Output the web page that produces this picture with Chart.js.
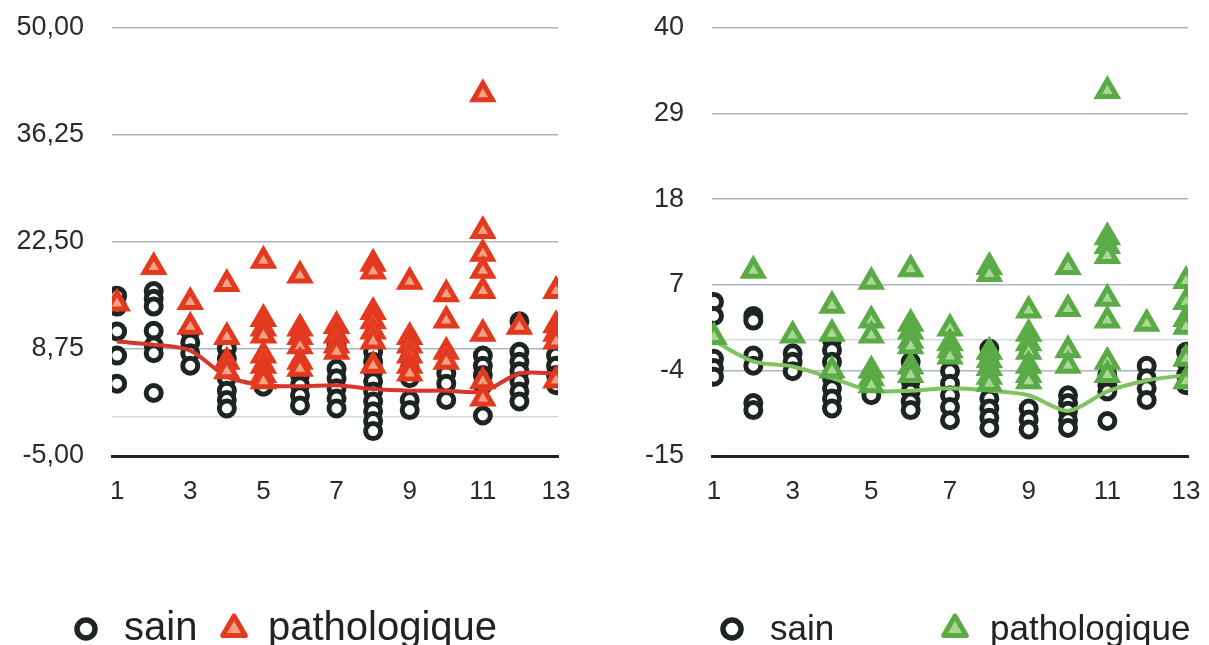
<!DOCTYPE html>
<html>
<head>
<meta charset="utf-8">
<script src="https://cdn.jsdelivr.net/npm/chart.js@4/dist/chart.umd.min.js"></script>
<style>
  html, body { margin: 0; padding: 0; background: #fff; }
  #wrap { position: relative; width: 1209px; height: 645px; }
  #leftBox { position: absolute; left: 0; top: 0; width: 600px; height: 645px; }
  #rightBox { position: absolute; left: 600px; top: 0; width: 609px; height: 645px; }
</style>
</head>
<body>
<div id="wrap">
  <div id="leftBox"><canvas id="leftChart"></canvas></div>
  <div id="rightBox"><canvas id="rightChart"></canvas></div>
</div>
<script>
// colonnes 1..13
const categories = [1, 2, 3, 4, 5, 6, 7, 8, 9, 10, 11, 12, 13];
const xTicks = [1, 3, 5, 7, 9, 11, 13];
const seriesNames = ["sain", "pathologique"];

// graphique de gauche
const leftYTicks = [-5, 8.75, 22.5, 36.25, 50];
const leftSain = [
    [15.6, 14.2, 11.0, 7.9, 4.3],
    [16.2, 15.2, 14.2, 11.1, 9.2, 8.2, 3.1],
    [11.0, 9.6, 8.2, 6.6],
    [8.8, 7.5, 5.0, 3.4, 2.2, 1.1],
    [4.6, 3.9],
    [6.6, 5.4, 4.1, 2.8, 1.5],
    [9.2, 6.2, 5.0, 3.7, 2.4, 1.1],
    [8.4, 7.1, 5.9, 4.6, 3.3, 2.0, 0.75, -0.5, -1.8],
    [7.5, 6.2, 5.0, 2.2, 0.9],
    [5.6, 4.3, 2.2],
    [7.9, 6.6, 5.4, 4.1, 0.2],
    [12.3, 8.4, 7.1, 5.9, 4.6, 3.3, 2.0],
    [7.9, 6.6, 5.4, 4.1]
];
const leftPatho = [
    [14.6],
    [19.3],
    [14.8, 11.6],
    [17.1, 10.3, 7.1, 5.9],
    [20.1, 12.6, 11.4, 10.5, 7.9, 6.6, 5.4, 4.6],
    [18.2, 11.4, 10.3, 9.1, 7.1, 6.2],
    [11.7, 10.5, 9.2, 8.4],
    [19.7, 18.7, 13.5, 12.3, 11.0, 9.7, 6.6],
    [17.4, 10.3, 9.2, 7.9, 6.6, 5.6],
    [15.8, 12.4, 8.4, 7.1],
    [41.5, 23.9, 21.0, 18.8, 16.2, 10.7, 4.6, 2.4],
    [11.6],
    [16.2, 11.8, 10.7, 9.7, 4.7]
];
const leftMean = [9.7, 9.3, 8.55, 5.2, 4.1, 3.95, 4.1, 3.6, 3.4, 3.4, 3.3, 5.6, 5.6];

// graphique de droite
const rightYTicks = [-15, -4, 7, 18, 29, 40];
const rightSain = [
    [4.8, 3.0, -2.5, -3.7, -4.8],
    [3.0, 2.4, -2.1, -3.4, -8.2, -9.1],
    [-1.8, -2.9, -4.1],
    [-0.1, -1.4, -2.9, -5.0, -6.3, -7.6, -8.9],
    [-7.2],
    [-2.9, -4.1, -5.4, -6.7, -8.0, -9.1],
    [-4.1, -5.7, -7.2, -8.7, -10.4],
    [-1.2, -2.5, -4.1, -7.6, -8.9, -10.1, -11.4],
    [-8.9, -10.3, -11.6],
    [-7.2, -8.2, -9.2, -10.4, -11.4],
    [-4.6, -5.9, -6.7, -10.5],
    [-3.4, -5.0, -6.3, -7.8],
    [-1.6, -2.9, -4.6, -5.9]
];
const rightPatho = [
    [0.3],
    [8.8],
    [0.5],
    [4.3, 0.7, -4.0],
    [7.4, 2.4, 0.5, -4.0, -5.0, -5.9],
    [9.0, 2.0, 1.0, -0.2, -0.9, -3.5, -4.6],
    [1.4, -0.5, -1.4, -2.2],
    [9.3, 8.4, -1.6, -2.7, -3.7, -4.8, -5.7],
    [3.7, 0.7, -0.5, -1.6, -3.4, -4.6, -5.4],
    [9.3, 3.9, -1.4, -3.4],
    [31.9, 13.1, 12.0, 10.7, 5.2, 2.4, -2.9, -4.6],
    [2.0],
    [7.5, 4.8, 2.6, 1.6, -2.5, -5.4]
];
const rightMean = [-0.2, -2.85, -3.5, -5.0, -6.6, -6.6, -6.3, -6.6, -7.2, -9.2, -6.7, -5.3, -4.6];

const FONT = "'Liberation Sans', Arial, Helvetica, sans-serif";
const DARK = "#1d2521";

function toPoints(cols) {
    const pts = [];
    cols.forEach((vals, i) => vals.forEach(v => pts.push({ x: categories[i], y: v })));
    return pts;
}

// légende dessinée à la main (cercle / triangle + texte)
const refLegend = {
    id: "refLegend",
    afterDraw(chart, args, opts) {
        const ctx = chart.ctx;
        ctx.save();
        opts.items.forEach(it => {
            ctx.lineWidth = it.lineWidth;
            ctx.lineJoin = "round";
            ctx.strokeStyle = it.stroke;
            ctx.fillStyle = it.fill;
            ctx.beginPath();
            if (it.shape === "circle") {
                ctx.arc(it.x, opts.y, it.r, 0, Math.PI * 2);
            } else {
                ctx.moveTo(it.x, opts.y - it.r);
                ctx.lineTo(it.x + it.r * 0.866, opts.y + it.r * 0.5);
                ctx.lineTo(it.x - it.r * 0.866, opts.y + it.r * 0.5);
                ctx.closePath();
            }
            ctx.fill();
            ctx.stroke();
            ctx.fillStyle = "#222";
            ctx.font = opts.fontSize + "px " + FONT;
            ctx.textBaseline = "alphabetic";
            ctx.fillText(it.label, it.textX, opts.baseline);
        });
        ctx.restore();
    }
};

function makeChart(canvasId, cfg) {
    return new Chart(document.getElementById(canvasId), {
        type: "scatter",
        data: {
            datasets: [
                {
                    label: seriesNames[1],
                    data: toPoints(cfg.patho),
                    pointStyle: "triangle",
                    pointRadius: 11,
                    borderWidth: 5,
                    borderColor: cfg.color,
                    backgroundColor: cfg.fill,
                    order: 0
                },
                {
                    type: "line",
                    label: "moyenne",
                    data: cfg.mean.map((v, i) => ({ x: categories[i], y: v })),
                    borderColor: cfg.lineColor,
                    borderWidth: 4,
                    pointRadius: 0,
                    tension: 0.3,
                    fill: false,
                    order: 1
                },
                {
                    label: seriesNames[0],
                    data: toPoints(cfg.sain),
                    pointStyle: "circle",
                    pointRadius: 7.5,
                    borderWidth: 5,
                    borderColor: DARK,
                    backgroundColor: "#ffffff",
                    order: 2
                }
            ]
        },
        options: {
            responsive: true,
            maintainAspectRatio: false,
            animation: false,
            events: [],
            layout: {
                padding: { top: 28, right: cfg.padRight, bottom: 0, left: 0 }
            },
            scales: {
                x: {
                    type: "linear",
                    min: cfg.xMin,
                    max: cfg.xMax,
                    afterBuildTicks: s => { s.ticks = xTicks.map(v => ({ value: v })); },
                    afterFit: s => {
                        s.height = 189;
                        s.paddingLeft = 0;
                        s.paddingRight = 0;
                    },
                    grid: { display: false, drawTicks: false },
                    border: { display: true, color: DARK, width: 3 },
                    ticks: {
                        padding: 20,
                        color: "#2a2a2a",
                        font: { family: FONT, size: 26 }
                    }
                },
                y: {
                    min: cfg.yTicks[0],
                    max: cfg.yTicks[cfg.yTicks.length - 1],
                    afterBuildTicks: s => {
                        s.ticks = cfg.yTicks.concat([0]).map(v => ({ value: v }));
                    },
                    afterFit: s => {
                        s.width = 112;
                        s.paddingTop = 0;
                        s.paddingBottom = 0;
                    },
                    grid: {
                        drawTicks: false,
                        lineWidth: 1.5,
                        color: c => {
                            if (c.tick.value === cfg.yTicks[0]) return "rgba(0,0,0,0)";
                            if (c.tick.value === 0) return "#d3dae0";
                            return "#a7b7c6";
                        }
                    },
                    border: { display: false },
                    ticks: {
                        padding: 28,
                        color: "#2a2a2a",
                        font: { family: FONT, size: 27 },
                        callback: v => (v === 0 ? "" : cfg.fmt(v))
                    }
                }
            },
            plugins: {
                legend: { display: false },
                tooltip: { enabled: false },
                refLegend: {
                    y: 629,
                    baseline: 640,
                    fontSize: cfg.legFont,
                    items: [
                        { shape: "circle", x: cfg.legX[0], textX: cfg.legX[1], r: 9, lineWidth: 5.5,
                          stroke: DARK, fill: "#fff", label: seriesNames[0] },
                        { shape: "triangle", x: cfg.legX[2], textX: cfg.legX[3], r: 13, lineWidth: 5,
                          stroke: cfg.color, fill: cfg.fill, label: seriesNames[1] }
                    ]
                }
            }
        },
        plugins: [refLegend]
    });
}

makeChart("leftChart", {
    sain: leftSain, patho: leftPatho, mean: leftMean, yTicks: leftYTicks,
    fmt: v => v.toFixed(2).replace(".", ","),
    color: "#e2391f", fill: "#f4a184", lineColor: "#d8352b",
    xMin: 0.86, xMax: 13.055, padRight: 42,
    legX: [86, 124, 234, 268], legFont: 40
});

makeChart("rightChart", {
    sain: rightSain, patho: rightPatho, mean: rightMean, yTicks: rightYTicks,
    fmt: v => String(v),
    color: "#5aaa46", fill: "#a9d894", lineColor: "#80c461",
    xMin: 0.95, xMax: 13.05, padRight: 21,
    legX: [132, 170, 355, 390], legFont: 35
});
</script>
</body>
</html>
